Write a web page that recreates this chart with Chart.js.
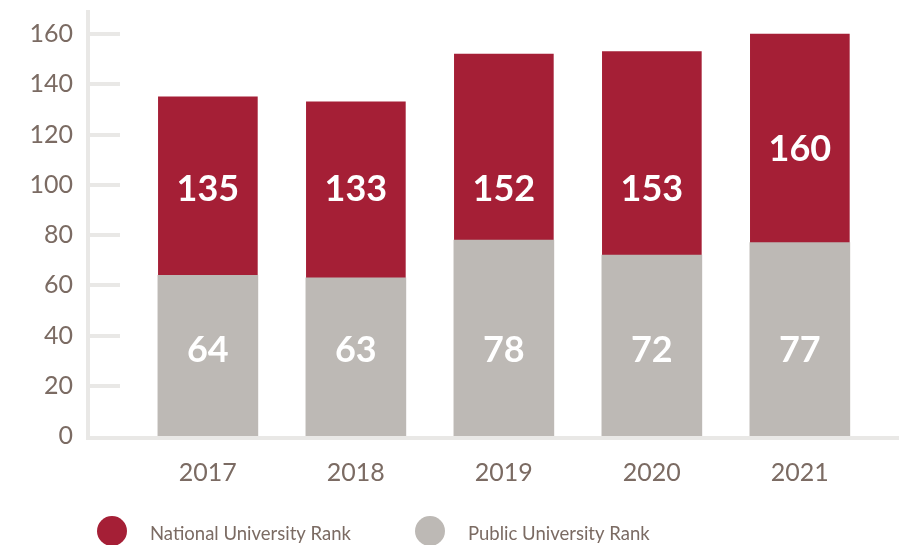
<!DOCTYPE html>
<html>
<head>
<meta charset="utf-8">
<script src="https://cdn.jsdelivr.net/npm/chart.js@4.4.1/dist/chart.umd.min.js"></script>
<style>
  html, body { margin: 0; padding: 0; background: #fff; }
  canvas { display: block; }
</style>
</head>
<body>
<canvas id="rankChart" width="899" height="545"></canvas>
<script>
// Ranking data per year
const years = ['2017', '2018', '2019', '2020', '2021'];
const nationalRank = [135, 133, 152, 153, 160];
const publicRank = [64, 63, 78, 72, 77];
const yTicks = [0, 20, 40, 60, 80, 100, 120, 140, 160];

const RED = '#a51f36';
const GREY = '#bdb9b5';
const AXIS = '#e9e8e6';
const TEXT = '#7b6b63';
const FONT = 'Lato, "Open Sans", sans-serif';

// short tick marks on the right side of the y axis
const axisMarks = {
    id: 'axisMarks',
    beforeDatasetsDraw(chart) {
        const ctx = chart.ctx;
        const y = chart.scales.y;
        const left = chart.chartArea.left;
        ctx.save();
        ctx.strokeStyle = AXIS;
        ctx.lineWidth = 4;
        y.ticks.forEach(t => {
            if (t.value === 0) return;
            const py = Math.round(y.getPixelForValue(t.value));
            ctx.beginPath();
            ctx.moveTo(left, py);
            ctx.lineTo(left + 32, py);
            ctx.stroke();
        });
        ctx.restore();
    }
};

// value labels inside the bars
const barLabels = {
    id: 'barLabels',
    afterDatasetsDraw(chart, args, opts) {
        const ctx = chart.ctx;
        const y = chart.scales.y;
        ctx.save();
        ctx.fillStyle = '#ffffff';
        ctx.font = 'bold 36px ' + FONT;
        ctx.textAlign = 'center';
        ctx.textBaseline = 'middle';
        chart.data.datasets.forEach((ds, di) => {
            const meta = chart.getDatasetMeta(di);
            const levels = opts.levels[ds.key];
            meta.data.forEach((bar, i) => {
                ctx.fillText(String(ds.data[i].y), bar.x, y.getPixelForValue(levels[i]));
            });
        });
        ctx.restore();
    }
};

// legend with large dots under the axis labels
const dotLegend = {
    id: 'dotLegend',
    afterDraw(chart, args, opts) {
        const ctx = chart.ctx;
        ctx.save();
        ctx.font = opts.fontSize + 'px ' + FONT;
        ctx.textBaseline = 'middle';
        ctx.textAlign = 'left';
        opts.items.forEach(item => {
            const ds = chart.data.datasets.find(d => d.key === item.key);
            ctx.fillStyle = ds.backgroundColor;
            ctx.beginPath();
            ctx.arc(item.x, opts.y, opts.radius, 0, Math.PI * 2);
            ctx.fill();
            ctx.fillStyle = TEXT;
            ctx.fillText(ds.label, item.x + opts.gap, opts.y + 3);
        });
        ctx.restore();
    }
};

const toPoints = arr => arr.map((v, i) => ({ x: i, y: v }));

new Chart(document.getElementById('rankChart'), {
    type: 'bar',
    data: {
        datasets: [{
            key: 'national',
            label: 'National University Rank',
            data: toPoints(nationalRank),
            backgroundColor: RED,
            barThickness: 99,
            order: 1
        }, {
            key: 'public',
            label: 'Public University Rank',
            data: toPoints(publicRank),
            backgroundColor: GREY,
            barThickness: 100,
            order: 0
        }]
    },
    options: {
        responsive: false,
        animation: false,
        layout: { padding: { top: 12, right: 0, left: 0, bottom: 0 } },
        scales: {
            x: {
                type: 'linear',
                stacked: true,
                offset: false,
                min: -0.81,
                max: 4.67,
                grid: { display: false, drawTicks: false },
                border: { color: AXIS, width: 4, z: 1 },
                afterBuildTicks: scale => { scale.ticks = years.map((y, i) => ({ value: i })); },
                afterFit: scale => {
                    scale.height = 107;
                    scale.paddingLeft = 0;
                    scale.paddingRight = 0;
                },
                ticks: {
                    padding: 20,
                    color: TEXT,
                    font: { family: FONT, size: 25 },
                    callback: v => years[v]
                }
            },
            y: {
                stacked: false,
                min: -0.8,
                max: 168.8,
                grid: { display: false, drawTicks: false },
                border: { color: AXIS, width: 4, z: 1 },
                afterBuildTicks: scale => { scale.ticks = yTicks.map(v => ({ value: v })); },
                afterFit: scale => {
                    scale.width = 88;
                    scale.paddingTop = 0;
                    scale.paddingBottom = 0;
                },
                ticks: {
                    padding: 15,
                    color: TEXT,
                    font: { family: FONT, size: 25 }
                }
            }
        },
        plugins: {
            legend: { display: false },
            tooltip: { enabled: false },
            barLabels: {
                levels: {
                    national: [98, 98, 98, 98, 114],
                    public: [34, 34, 34, 34, 34]
                }
            },
            dotLegend: {
                y: 531,
                radius: 15,
                gap: 38,
                fontSize: 18.5,
                items: [{ key: 'national', x: 112 }, { key: 'public', x: 430 }]
            }
        }
    },
    plugins: [axisMarks, barLabels, dotLegend]
});
</script>
</body>
</html>
